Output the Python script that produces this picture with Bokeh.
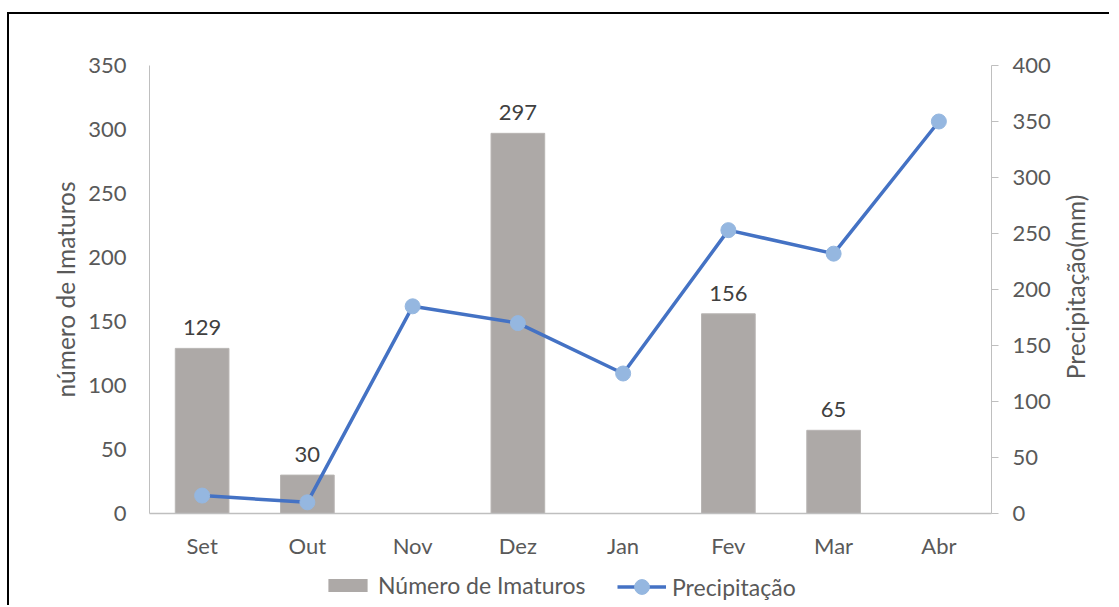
import math
from bokeh.plotting import figure
from bokeh.layouts import column, row
from bokeh.models import (Range1d, LinearAxis, FactorRange, Legend, LegendItem,
                          FixedTicker, LabelSet, ColumnDataSource, Label)
from bokeh.embed import file_html
from bokeh.resources import INLINE
from bokeh.core.properties import value

# ---- data ----
months = ["Set", "Out", "Nov", "Dez", "Jan", "Fev", "Mar", "Abr"]
imaturos = [129, 30, 0, 297, 0, 156, 65, 0]
precipitacao = [16, 10, 185, 170, 125, 253, 232, 350]
left_ticks = [0, 50, 100, 150, 200, 250, 300, 350]
right_ticks = [0, 50, 100, 150, 200, 250, 300, 350, 400]
series_names = ["Número de Imaturos", "Precipitação"]
left_title = "número de Imaturos"
right_title = "Precipitação(mm)"

FONT = "Lato"
TICK_COLOR = "#595959"
AXIS_GRAY = "#BFBFBF"
BAR_COLOR = "#ADA9A7"
LINE_COLOR = "#4472C4"
MARKER_COLOR = "#95B7E0"

P_LEFT, P_RIGHT, P_TOP, P_BOTTOM = 140, 62, 51, 50
FW, FH = 842, 448

p = figure(x_range=FactorRange(*months), y_range=Range1d(0, 350),
           frame_width=FW, frame_height=FH,
           min_border_left=P_LEFT, min_border_right=P_RIGHT,
           min_border_top=P_TOP, min_border_bottom=P_BOTTOM,
           output_backend="svg", toolbar_location=None)
p.extra_y_ranges = {"precip": Range1d(0, 400)}
p.xgrid.visible = False
p.ygrid.visible = False
p.outline_line_color = None

# bars
p.vbar(x=months, top=imaturos, width=0.51, fill_color=BAR_COLOR,
       line_color="#B8B5B3", line_width=1)

# bar labels (non-zero only)
lsrc = ColumnDataSource(dict(
    x=[m for m, v in zip(months, imaturos) if v > 0],
    y=[v for v in imaturos if v > 0],
    t=[str(v) for v in imaturos if v > 0]))
p.add_layout(LabelSet(x="x", y="y", text="t", source=lsrc, text_align="center",
                      text_baseline="alphabetic", y_offset=13,
                      text_font=value(FONT), text_font_size="22px",
                      text_color="#404040"))

# line
p.line(x=months, y=precipitacao, y_range_name="precip",
       line_color=LINE_COLOR, line_width=3.5)
p.scatter(x=months, y=precipitacao, y_range_name="precip", size=15,
          fill_color=MARKER_COLOR, line_color=MARKER_COLOR)

# left axis
ya = p.yaxis[0]
ya.ticker = FixedTicker(ticks=left_ticks)
ya.axis_line_color = AXIS_GRAY
ya.major_tick_line_color = None
ya.minor_tick_line_color = None
ya.major_label_standoff = 17
ya.major_label_text_font = FONT
ya.major_label_text_font_size = "22px"
ya.major_label_text_color = TICK_COLOR
ya.axis_label = left_title
ya.axis_label_text_font = FONT
ya.axis_label_text_font_size = "24.5px"
ya.axis_label_text_font_style = "normal"
ya.axis_label_text_color = TICK_COLOR
ya.axis_label_standoff = 5

# bottom axis
xa = p.xaxis[0]
xa.axis_label = None
xa.axis_line_color = AXIS_GRAY
xa.axis_line_width = 1.5
xa.major_tick_line_color = None
xa.minor_tick_line_color = None
xa.major_label_standoff = 12
xa.major_label_text_font = FONT
xa.major_label_text_font_size = "22px"
xa.major_label_text_color = TICK_COLOR

# right axis (ticks + tick labels)
ra = LinearAxis(y_range_name="precip", ticker=FixedTicker(ticks=right_ticks))
ra.axis_line_color = AXIS_GRAY
ra.major_tick_line_color = AXIS_GRAY
ra.major_tick_out = 7
ra.major_tick_in = 0
ra.minor_tick_line_color = None
ra.major_label_standoff = 14
ra.major_label_text_font = FONT
ra.major_label_text_font_size = "22px"
ra.major_label_text_color = TICK_COLOR
p.add_layout(ra, "right")

P_H = P_TOP + FH + P_BOTTOM

# right axis title, in a narrow strip figure (reads bottom-to-top)
rfig = figure(width=56, height=P_H, x_range=(0, 1), y_range=(0, 1),
              min_border=0, x_axis_type=None, y_axis_type=None,
              output_backend="svg", toolbar_location=None)
rfig.outline_line_color = None
rfig.grid.visible = False
rfig.add_layout(Label(x=22, y=226.5, x_units="screen", y_units="screen",
                      text=right_title, angle=math.pi / 2,
                      text_align="center", text_baseline="middle",
                      text_font=FONT, text_font_size="24.5px",
                      text_color=TICK_COLOR))

# legend strip below (hidden proxy renderers built from the same data)
L_H = 42
lfig = figure(width=P_LEFT + FW + P_RIGHT + 56, height=L_H,
              x_range=FactorRange(*months), y_range=Range1d(0, 400),
              min_border=0, x_axis_type=None, y_axis_type=None,
              output_backend="svg", toolbar_location=None)
lfig.outline_line_color = None
lfig.grid.visible = False
lb = lfig.vbar(x=months, top=imaturos, width=0.5,
               fill_color=BAR_COLOR, line_color=None, visible=False)
ll = lfig.line(x=months, y=precipitacao, line_color=LINE_COLOR,
               line_width=3.5, visible=False)
lm = lfig.scatter(x=months, y=precipitacao, size=15,
                  fill_color=MARKER_COLOR, line_color=MARKER_COLOR, visible=False)

common = dict(orientation="horizontal", padding=0, margin=0, spacing=0,
              label_standoff=6, glyph_width=49,
              label_text_font=FONT, label_text_font_size="23px",
              label_text_color=TICK_COLOR, border_line_color=None,
              background_fill_alpha=0, inactive_fill_alpha=0)
leg1 = Legend(items=[LegendItem(label=series_names[0], renderers=[lb])],
              location=(314, 6), glyph_height=16, label_height=24, **common)
leg2 = Legend(items=[LegendItem(label=series_names[1], renderers=[ll, lm])],
              location=(608, 0), glyph_height=37, label_height=24, **common)
lfig.add_layout(leg1, "center")
lfig.add_layout(leg2, "center")

layout = column(row(p, rfig, spacing=0), lfig, spacing=0)
layout.styles = {"margin-left": "7px", "margin-top": "12px",
                 "border-left": "2px solid black", "border-top": "2px solid black"}

open("out.html", "w").write(file_html(layout, INLINE))
